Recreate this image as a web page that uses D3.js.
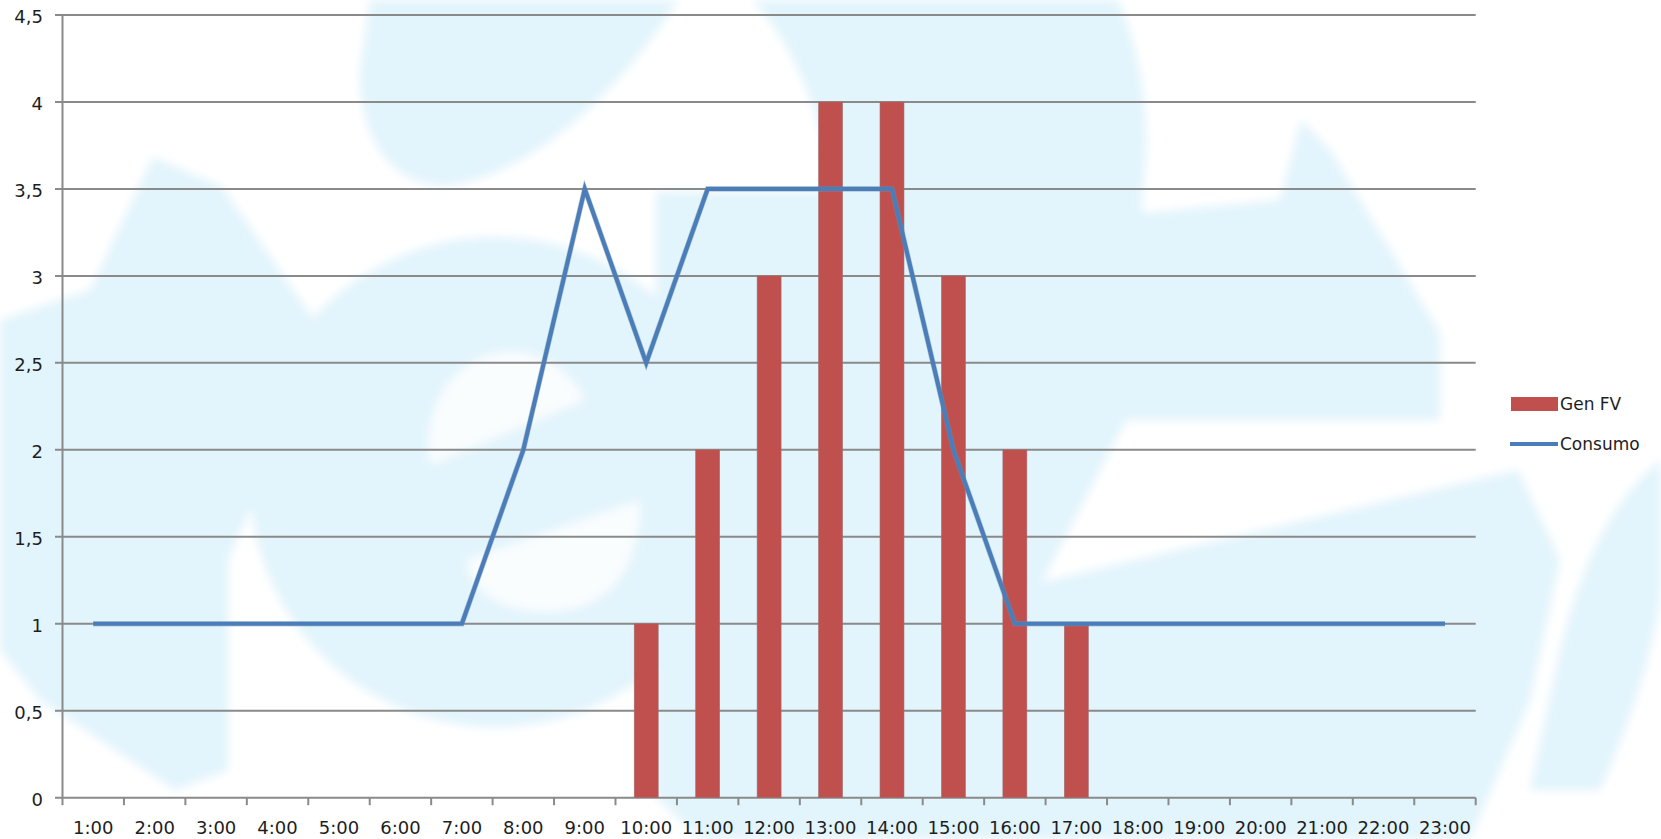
<!DOCTYPE html>
<html>
<head>
<meta charset="utf-8">
<script src="https://cdn.jsdelivr.net/npm/d3@7"></script>
<style>
  html, body { margin: 0; padding: 0; background: #ffffff; }
  svg { display: block; }
  text { font-family: "DejaVu Sans", Verdana, sans-serif; fill: #1e1e1e; }
</style>
</head>
<body>
<svg id="chart" width="1661" height="839"></svg>
<script>
// ---- data ----
const hours = ["1:00","2:00","3:00","4:00","5:00","6:00","7:00","8:00","9:00","10:00","11:00","12:00",
               "13:00","14:00","15:00","16:00","17:00","18:00","19:00","20:00","21:00","22:00","23:00"];
const genFV   = [0,0,0,0,0,0,0,0,0,1,2,3,4,4,3,2,1,0,0,0,0,0,0];
const consumo = [1,1,1,1,1,1,1,2,3.5,2.5,3.5,3.5,3.5,3.5,2,1,1,1,1,1,1,1,1];
const yTickValues = [0,0.5,1,1.5,2,2.5,3,3.5,4,4.5];
const yTickLabels = ["0","0,5","1","1,5","2","2,5","3","3,5","4","4,5"];
const seriesNames = ["Gen FV","Consumo"];

(function () {
// ---- layout ----
const pLeft = 62.5, pRight = 1475.7, pTop = 15, pBottom = 797.7;
const svg = d3.select("#chart");

const x = d3.scaleBand().domain(hours).range([pLeft, pRight]).paddingInner(0).paddingOuter(0);
const y = d3.scaleLinear().domain([0, 4.5]).range([pBottom, pTop]);
const bw = x.bandwidth();

// ---- faint watermark background ----
const defs = svg.append("defs");
defs.append("filter").attr("id", "soft").attr("x", "-10%").attr("y", "-10%").attr("width", "120%").attr("height", "120%")
  .append("feGaussianBlur").attr("stdDeviation", 5);
const wmAll = svg.append("g").attr("filter", "url(#soft)");
const wm = wmAll.append("g").attr("fill", "#e2f4fc");
wm.append("path").attr("d", "M370,0 L678,0 C640,60 560,160 460,184 C395,195 358,140 360,70 Z");
wm.append("path").attr("d", "M752,0 L1118,0 C1148,70 1150,140 1142,195 L830,195 C825,120 795,45 752,0 Z");
wm.append("path").attr("d", "M656,192 L1142,192 L1142,213 L1280,200 L1301,120 L1330,150 L1440,333 L1440,420 L1126,420 L1042,582 L1518,470 L1560,560 L1530,700 L1470,839 L700,839 L656,797 Z");
wm.append("circle").attr("cx", 495).attr("cy", 482).attr("r", 245);
wm.append("path").attr("d", "M0,320 L90,290 L153,157 L222,187 L323,333 L290,420 L228,560 L228,770 L175,790 L100,740 L40,700 L0,650 Z");
wm.append("path").attr("d", "M1661,460 C1610,500 1580,570 1560,650 L1530,790 L1600,790 C1640,700 1661,620 1661,580 Z");
const wmw = wmAll.append("g").attr("fill", "#ffffff").attr("opacity", 0.85);
wmw.append("path").attr("d", "M430,465 C420,400 460,352 510,352 C550,352 575,380 585,400 Z");
wmw.append("path").attr("d", "M466,560 L640,500 C640,580 600,612 545,612 C500,612 470,590 466,560 Z");

// ---- gridlines ----
const gridColor = "#8a8a8a";
svg.append("g").selectAll("line").data(yTickValues).join("line")
  .attr("x1", pLeft - 7.5).attr("x2", pRight)
  .attr("y1", d => y(d)).attr("y2", d => y(d))
  .attr("stroke", gridColor).attr("stroke-width", 2);

// ---- y axis ----
svg.append("line").attr("x1", pLeft).attr("x2", pLeft).attr("y1", pTop).attr("y2", pBottom)
  .attr("stroke", gridColor).attr("stroke-width", 2);
const yAxis = d3.axisLeft(y).tickValues(yTickValues)
  .tickFormat((d, i) => yTickLabels[i]).tickSize(0).tickPadding(19.5);
const gy = svg.append("g").attr("transform", `translate(${pLeft},0)`).call(yAxis);
gy.select(".domain").remove();
gy.selectAll("text").attr("dy", "0.43em").style("font-size", "18px")
  .style("font-family", '"DejaVu Sans", Verdana, sans-serif').attr("fill", "#1e1e1e");

// ---- x axis ----
const boundaries = hours.map(h => x(h)).concat([pRight]);
svg.append("g").selectAll("line").data(boundaries).join("line")
  .attr("x1", d => d).attr("x2", d => d).attr("y1", pBottom).attr("y2", pBottom + 7.5)
  .attr("stroke", gridColor).attr("stroke-width", 2);
const xAxis = d3.axisBottom(x).tickSize(0).tickPadding(23.5);
const gx = svg.append("g").attr("transform", `translate(0,${pBottom})`).call(xAxis);
gx.select(".domain").remove();
gx.selectAll("text").style("font-size", "18px")
  .style("font-family", '"DejaVu Sans", Verdana, sans-serif').attr("fill", "#1e1e1e");

// ---- bars ----
const barW = bw * 0.39;
svg.append("g").selectAll("rect").data(hours.map((h, i) => ({h, v: genFV[i]})).filter(d => d.v > 0))
  .join("rect")
  .attr("x", d => x(d.h) + (bw - barW) / 2)
  .attr("width", barW)
  .attr("y", d => y(d.v))
  .attr("height", d => y(0) - y(d.v))
  .attr("fill", "#c0504d")
  .attr("stroke", "#a07070").attr("stroke-width", 0.6);

// ---- line ----
const lineGen = d3.line().x((d, i) => x(hours[i]) + bw / 2).y(d => y(d));
svg.append("path").datum(consumo).attr("d", lineGen)
  .attr("fill", "none").attr("stroke", "#7f8da0").attr("stroke-width", 5.5)
  .attr("stroke-linejoin", "miter").attr("opacity", 0.45);
svg.append("path").datum(consumo).attr("d", lineGen)
  .attr("fill", "none").attr("stroke", "#4a7ebb").attr("stroke-width", 4.2)
  .attr("stroke-linejoin", "miter");

// ---- legend ----
const lg = svg.append("g");
lg.append("rect").attr("x", 1511).attr("y", 397).attr("width", 47).attr("height", 14)
  .attr("fill", "#c0504d");
lg.append("text").attr("x", 1560).attr("y", 409.5).style("font-size", "17px").text(seriesNames[0]);
lg.append("line").attr("x1", 1510).attr("x2", 1558).attr("y1", 444).attr("y2", 444)
  .attr("stroke", "#4a7ebb").attr("stroke-width", 4.2);
lg.append("text").attr("x", 1560).attr("y", 450).style("font-size", "17px").text(seriesNames[1]);
})();
</script>
</body>
</html>
